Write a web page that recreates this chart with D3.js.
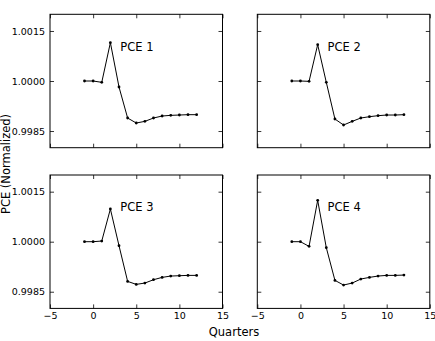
<!DOCTYPE html>
<html>
<head>
<meta charset="utf-8">
<script src="https://cdn.jsdelivr.net/npm/d3@7"></script>
<style>
  body { margin: 0; background: #fff; }
  svg text { font-family: 'DejaVu Sans', sans-serif; fill: #000; }
  .tick text { font-size: 9.5px; }
</style>
</head>
<body>
<svg width="435" height="341"></svg>
<script>
const quarters = [-1, 0, 1, 2, 3, 4, 5, 6, 7, 8, 9, 10, 11, 12];
const pce1 = [1.0000, 1.0000, 0.99996, 1.00115, 0.99982, 0.99889, 0.99874, 0.99879, 0.99889, 0.99895, 0.99897, 0.99898, 0.99899, 0.99899];
const pce2 = [1.0000, 1.0000, 0.99999, 1.00109, 0.99996, 0.99886, 0.99868, 0.99879, 0.99889, 0.99893, 0.99896, 0.99898, 0.99898, 0.99899];
const pce3 = [1.0000, 1.0000, 1.00002, 1.00098, 0.99988, 0.99881, 0.99872, 0.99876, 0.99886, 0.99893, 0.99897, 0.99898, 0.99899, 0.99899];
const pce4 = [1.0000, 1.0000, 0.99986, 1.00124, 0.99982, 0.99884, 0.99870, 0.99876, 0.99888, 0.99893, 0.99897, 0.99899, 0.99899, 0.99900];
const series = [
  { name: 'PCE 1', values: pce1 },
  { name: 'PCE 2', values: pce2 },
  { name: 'PCE 3', values: pce3 },
  { name: 'PCE 4', values: pce4 },
];
const xTicks = [-5, 0, 5, 10, 15];
const yTicks = [0.9985, 1.0000, 1.0015];

const svg = d3.select('svg');
const colX = [50, 257.3];
const rowY = [14.3, 175];
const pw = 172.5;
const ph = 133.4;

const x = d3.scaleLinear().domain([-5, 15]).range([0, pw]);
const y = d3.scaleLinear().domain([0.998, 1.002]).range([ph, 0]);
const line = d3.line().x((d, i) => x(quarters[i])).y(d => y(d));

series.forEach((s, k) => {
  const col = k % 2;
  const row = Math.floor(k / 2);
  const g = svg.append('g').attr('transform', `translate(${colX[col]},${rowY[row]})`);

  // inward ticks on all sides
  const bottom = d3.axisBottom(x).tickValues(xTicks).tickSizeInner(-4).tickSizeOuter(0).tickPadding(4)
    .tickFormat(d => (row === 1 ? String(d).replace('-', '\u2212') : ''));
  const top = d3.axisTop(x).tickValues(xTicks).tickSizeInner(-4).tickSizeOuter(0).tickFormat('');
  const left = d3.axisLeft(y).tickValues(yTicks).tickSizeInner(-4).tickSizeOuter(0).tickPadding(5)
    .tickFormat(d => (col === 0 ? d3.format('.4f')(d) : ''));
  const right = d3.axisRight(y).tickValues(yTicks).tickSizeInner(-4).tickSizeOuter(0).tickFormat('');

  g.append('g').attr('transform', `translate(0,${ph})`).call(bottom);
  g.append('g').call(top);
  g.append('g').call(left);
  g.append('g').attr('transform', `translate(${pw},0)`).call(right);
  g.selectAll('.domain').remove();
  g.selectAll('.tick line').attr('stroke', '#000').attr('stroke-width', 0.8);
  g.selectAll('.tick text').attr('font-family', null).attr('font-size', null);

  g.append('rect').attr('width', pw).attr('height', ph)
    .attr('fill', 'none').attr('stroke', '#000').attr('stroke-width', 1);

  g.append('path').datum(s.values).attr('d', line)
    .attr('fill', 'none').attr('stroke', '#000').attr('stroke-width', 1);

  g.selectAll('circle').data(s.values).join('circle')
    .attr('cx', (d, i) => x(quarters[i])).attr('cy', d => y(d)).attr('r', 1.4).attr('fill', '#000');

  g.append('text').attr('x', x(3.15)).attr('y', y(1.00091))
    .style('font-size', '11.5px').text(s.name);
});

svg.append('text').attr('x', 234).attr('y', 336).attr('text-anchor', 'middle')
  .style('font-size', '11.5px').text('Quarters');
svg.append('text').attr('transform', 'translate(10,164) rotate(-90)').attr('text-anchor', 'middle')
  .style('font-size', '11.5px').text('PCE (Normalized)');
</script>
</body>
</html>
